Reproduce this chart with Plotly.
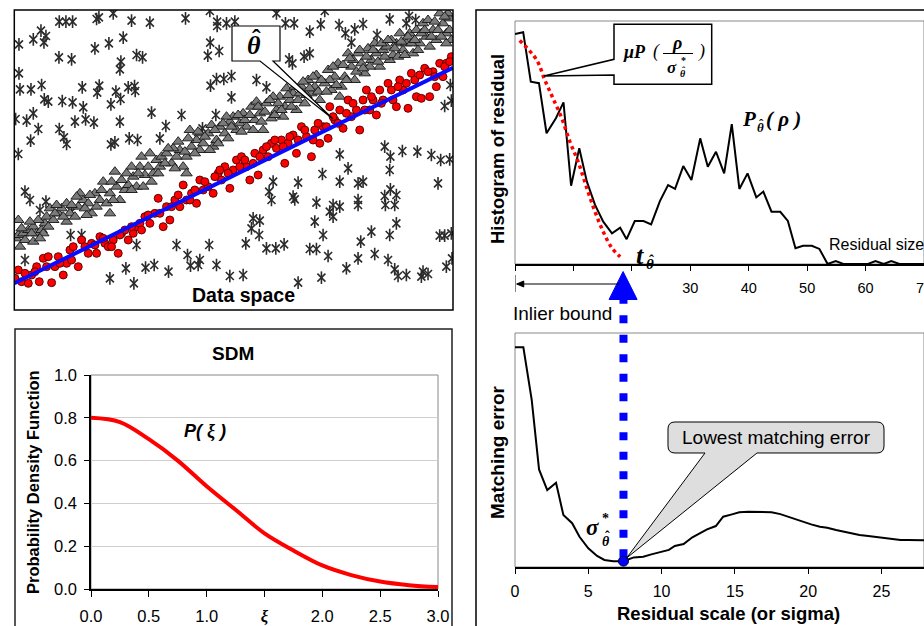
import plotly.graph_objects as go

W, H = 924, 626
SANS = "Liberation Sans, Arial, sans-serif"
SERIF = "Liberation Serif, Times New Roman, serif"

# ---------------- Data space (arbitrary units) ----------------
outlier_pts = [
    (178, 865), (198, 865), (218, 865), (290, 873), (297, 878), (340, 890), (395, 868), (450, 862),
    (557, 875), (630, 897), (652, 865), (652, 852), (680, 860), (705, 865), (123, 838), (100, 812),
    (138, 822), (132, 803), (57, 797), (285, 785), (327, 800), (370, 817), (631, 802), (624, 763),
    (658, 777), (177, 758), (215, 752), (410, 765), (428, 758), (363, 745), (360, 722), (57, 710),
    (60, 662), (93, 662), (125, 675), (247, 668), (298, 673), (292, 652), (348, 655), (385, 668),
    (404, 672), (406, 657), (632, 673), (650, 693), (672, 693), (695, 702), (695, 638), (133, 632),
    (145, 625), (187, 627), (218, 623), (250, 608), (333, 617), (362, 633), (47, 573), (80, 568),
    (100, 590), (115, 543), (225, 565), (257, 572), (282, 562), (360, 565), (455, 592), (545, 585),
    (648, 585), (608, 545), (92, 508), (178, 543), (192, 518), (200, 498), (333, 497), (345, 503),
    (388, 515), (413, 510), (480, 515), (498, 552), (55, 468),
    (830, 890), (857, 860), (883, 860), (930, 835), (963, 857), (975, 897), (1018, 855), (1037, 830),
    (1065, 842), (1090, 858), (1132, 825), (1170, 872), (1228, 882), (1220, 860), (1248, 870),
    (1055, 802), (868, 752), (913, 760), (930, 770), (878, 740), (770, 690), (800, 668),
    (1352, 675), (1355, 628), (1335, 612),
    (1155, 490), (1172, 460), (1208, 477), (1253, 475), (1295, 465), (1323, 450), (1020, 467),
    (1045, 425), (968, 408), (1020, 385), (1075, 380), (1090, 385), (895, 382), (885, 332),
    (1170, 420), (1315, 380), (1155, 342), (1172, 362), (1190, 345), (1157, 315), (1185, 315),
    (950, 322), (1000, 315), (1020, 310), (1075, 315), (1075, 330), (1000, 280), (990, 295),
    (1350, 452), (760, 275), (780, 268), (755, 245), (778, 225), (820, 385), (808, 355), (815, 330),
    (880, 340), (970, 225), (945, 265), (1115, 235), (1190, 260), (1170, 225), (1083, 205),
    (1320, 223), (1335, 223), (1355, 230), (738, 200), (800, 185), (828, 185), (853, 197),
    (930, 183), (950, 183), (985, 162), (1075, 155), (1125, 168), (1165, 150), (1357, 155),
    (628, 195), (563, 165), (600, 150), (572, 133), (595, 135), (650, 135), (690, 102), (730, 105),
    (895, 82), (965, 97), (1040, 125), (1185, 122), (1195, 102), (1220, 105), (1270, 115),
    (1265, 100), (1285, 108), (1340, 130), (330, 95), (378, 125), (402, 80), (437, 127), (463, 135),
    (506, 115), (530, 195), (410, 195), (212, 225), (245, 225), (75, 355), (90, 330), (138, 325),
    (120, 300), (215, 295), (75, 150),
]

shifted_pts = [
    (48, 215), (55, 225), (70, 230), (85, 240), (100, 250), (110, 230), (125, 240), (135, 260),
    (55, 270), (60, 190), (75, 210), (95, 230), (115, 270), (140, 280), (150, 305), (160, 270),
    (175, 290), (185, 305), (200, 320), (210, 290), (225, 280), (235, 310), (250, 330), (265, 320),
    (275, 290), (285, 350), (300, 330), (320, 320), (330, 350), (345, 415), (350, 370), (360, 330),
    (375, 360), (385, 375), (400, 400), (410, 370), (420, 430), (435, 405), (450, 470), (460, 410),
    (470, 450), (485, 460), (500, 470), (515, 440), (530, 460), (540, 480), (550, 430), (560, 460),
    (570, 540), (575, 490), (590, 510), (600, 480), (610, 500), (625, 530), (635, 555), (650, 510),
    (660, 550), (675, 530), (690, 565), (700, 580), (710, 540), (720, 560), (740, 550), (755, 610),
    (765, 570), (780, 590), (790, 540), (800, 620), (815, 575), (830, 600), (840, 640), (855, 610),
    (860, 665), (870, 630), (880, 650), (895, 630), (905, 670), (915, 620), (925, 690), (935, 650),
    (945, 670), (960, 630), (975, 680), (985, 720), (995, 660), (1005, 700), (1015, 740),
    (1025, 670), (1035, 700), (1045, 770), (1055, 730), (1065, 690), (1075, 770), (1085, 740),
    (1095, 710), (1105, 785), (1115, 750), (1130, 770), (1140, 730), (1150, 780), (1160, 790),
    (1170, 750), (1180, 765), (1190, 800), (1200, 830), (1210, 780), (1220, 800), (1230, 830),
    (1240, 770), (1250, 840), (1260, 800), (1270, 860), (1280, 820), (1290, 790), (1300, 840),
    (1310, 810), (1320, 890), (1330, 860), (1340, 830), (1350, 875), (1355, 810), (1345, 890),
    (1335, 880), (100, 205), (130, 230), (170, 315), (200, 265), (240, 350), (260, 285), (310, 385),
    (330, 290), (395, 430), (430, 370), (480, 430), (520, 485), (560, 410), (600, 530), (640, 490),
    (680, 580), (730, 590), (770, 625), (820, 640), (850, 580), (890, 600), (920, 645), (950, 705),
    (990, 690), (1020, 640), (1060, 750), (1110, 730), (1125, 800), (1175, 810), (1195, 760),
    (1235, 800), (1265, 830), (1285, 870), (1315, 840), (1340, 800),
    (65, 245), (90, 265), (120, 215), (145, 250), (165, 290), (190, 280), (215, 315), (230, 340),
    (255, 305), (270, 345), (290, 310), (305, 360), (335, 385), (340, 330), (365, 390), (380, 410),
    (395, 360), (415, 410), (425, 460), (445, 430), (455, 385), (475, 410), (495, 440), (505, 485),
    (525, 425), (535, 505), (555, 475), (565, 515), (585, 470), (595, 535), (615, 520), (630, 480),
    (645, 540), (655, 500), (670, 560), (685, 515), (695, 550), (715, 585), (725, 535), (735, 570),
    (750, 585), (760, 540), (775, 610), (785, 565), (795, 595), (810, 630), (825, 585), (835, 620),
    (845, 600), (865, 645), (875, 610), (885, 670), (900, 650), (910, 685), (930, 665), (940, 700),
    (955, 655), (965, 690), (980, 655), (1000, 730), (1010, 675), (1030, 735), (1040, 690),
    (1050, 755), (1070, 715), (1080, 780), (1090, 725), (1100, 760), (1120, 780), (1135, 745),
    (1145, 800), (1155, 760), (1165, 810), (1185, 785), (1205, 805), (1215, 765), (1225, 820),
    (1245, 810), (1255, 780), (1275, 840), (1295, 820), (1305, 865), (1325, 820), (1350, 840),
]

inlier_pts = [
    (45, 95), (55, 120), (65, 85), (85, 80), (95, 105), (110, 130), (118, 85), (130, 155),
    (145, 160), (155, 82), (165, 130), (175, 160), (190, 105), (200, 140), (210, 180), (220, 190),
    (235, 130), (245, 210), (265, 170), (275, 200), (290, 170), (300, 220), (315, 200), (325, 190),
    (340, 210), (355, 170), (365, 230), (375, 240), (385, 210), (400, 230), (410, 250), (420, 260),
    (435, 280), (450, 260), (465, 290), (475, 335), (490, 250), (500, 310), (510, 270), (525, 330),
    (540, 310), (550, 375), (560, 330), (575, 350), (590, 320), (600, 390), (610, 360), (625, 370),
    (640, 350), (655, 410), (665, 390), (675, 430), (690, 365), (700, 420), (710, 450), (725, 460),
    (740, 430), (750, 390), (765, 470), (775, 405), (790, 480), (805, 460), (815, 500), (830, 485),
    (845, 510), (855, 440), (865, 500), (880, 525), (890, 470), (905, 550), (920, 520), (935, 460),
    (945, 540), (960, 500), (970, 550), (985, 515), (990, 610), (1005, 570), (1020, 600),
    (1030, 545), (1045, 630), (1055, 580), (1070, 600), (1080, 540), (1090, 630), (1100, 660),
    (1110, 600), (1120, 630), (1130, 585), (1140, 660), (1150, 630), (1165, 680), (1180, 630),
    (1190, 610), (1200, 690), (1210, 660), (1225, 605), (1235, 710), (1250, 640), (1265, 635),
    (1275, 725), (1290, 640), (1300, 715), (1310, 670), (1320, 740), (1330, 700), (1340, 740),
    (1355, 760), (75, 110), (105, 115), (140, 130), (180, 140), (215, 150), (255, 190), (285, 195),
    (310, 215), (335, 190), (360, 225), (395, 250), (425, 240), (445, 285), (480, 290), (515, 310),
    (535, 345), (570, 330), (585, 360), (615, 385), (645, 400), (660, 420), (685, 410), (720, 430),
    (735, 450), (760, 440), (780, 460), (800, 490), (825, 510), (850, 490), (870, 520), (895, 510),
    (915, 540), (940, 510), (955, 560), (980, 550), (1000, 580), (1015, 560), (1040, 590),
    (1060, 620), (1095, 600), (1115, 640), (1145, 620), (1175, 660), (1195, 670), (1220, 680),
    (1245, 690), (1260, 705), (1285, 715), (1305, 700), (1335, 730), (1350, 745),
]

fit_x = [43, 1360]
fit_y = [80, 727]

# ---------------- SDM: P(xi) ----------------
xi = [0.0, 0.25, 0.5, 0.75, 1.0, 1.25, 1.5, 1.75, 2.0, 2.25, 2.5, 2.75, 3.0]
p_xi = [0.80, 0.78, 0.70, 0.60, 0.48, 0.37, 0.26, 0.18, 0.11, 0.065, 0.035, 0.018, 0.009]

# ---------------- Histogram of residuals ----------------
res_size = [0, 1.4, 2.7, 4.1, 5.4, 7.0, 8.3, 9.6, 11.0, 12.3, 13.7, 15.1, 16.6, 18.0, 19.1,
            20.5, 22.0, 23.3, 24.8, 26.2, 27.4, 28.8, 30.2, 31.7, 33.0, 34.4, 35.8, 37.1, 38.4,
            39.8, 41.3, 42.5, 43.9, 45.4, 46.7, 48.0, 49.3, 50.8, 52.1, 53.5, 54.9, 56.2, 57.6,
            59.0, 60.4, 61.7, 63.1, 64.4, 65.8, 67.2, 68.6, 70.0]
res_count = [94.6, 95.4, 75.0, 74.4, 53.8, 60.0, 66.5, 32.2, 47.6, 33.9, 24.3, 17.4, 12.6, 14.9,
             10.2, 17.7, 17.7, 16.3, 25.9, 32.5, 30.9, 40.3, 34.6, 51.7, 40.0, 46.2, 37.3, 57.6,
             30.9, 37.3, 27.4, 29.8, 21.5, 21.5, 17.7, 6.5, 7.5, 7.5, 6.2, 0, 1.2, 0, 0, 0, 0,
             1.2, 0, 1.2, 0, 0, 0, 0]
model_x = [0.8, 3.7, 5.1, 6.5, 8.0, 9.4, 10.8, 12.3, 13.7, 15.1, 16.6, 18.0]
model_y = [92.0, 84.0, 75.7, 68.2, 60.0, 50.3, 42.1, 31.2, 21.5, 13.3, 6.5, 3.0]
hist_ticks = [30, 40, 50, 60, 70]
t_hat = 18.5  # inlier bound = 2.5 sigma*

# ---------------- Matching error vs. scale ----------------
sigma = [0, 0.57, 1.14, 1.64, 2.2, 2.8, 3.3, 3.9, 4.4, 5.0, 5.6, 6.1, 6.7, 7.4, 8.1, 8.75, 9.3,
         9.9, 10.5, 10.9, 11.5, 12.1, 12.6, 13.1, 13.7, 14.2, 14.8, 15.3, 15.9, 16.4, 16.9, 17.5,
         18.1, 18.6, 19.1, 19.7, 20.2, 20.8, 21.3, 21.9, 22.4, 23.0, 23.5, 24.1, 24.7, 25.2, 25.8,
         26.3, 26.8, 27.4, 27.9]
match_err = [93.9, 93.9, 71.4, 41.7, 32.9, 36.0, 22.2, 18.7, 12.9, 8.0, 4.7, 3.0, 2.5, 2.5, 4.1,
             4.4, 5.4, 6.3, 7.3, 9.0, 9.8, 12.7, 14.4, 16.1, 17.5, 21.5, 22.5, 23.4, 23.6, 23.6,
             23.6, 23.4, 22.6, 21.5, 20.4, 19.1, 18.2, 17.2, 16.8, 15.8, 15.1, 14.4, 13.7, 13.2,
             12.7, 12.3, 11.8, 11.5, 11.5, 11.4, 11.4]
best = 13  # index of sigma* (lowest matching error)

# ---------------- layout helpers ----------------
def px(x):
    return x / W


def py(y):
    return 1 - y / H


# subplot boxes in pixels: left, right, top, bottom
BOX = {1: (14.3, 453, 10, 310), 2: (91, 438, 375, 589), 3: (515, 924, 21, 264), 4: (515, 924, 333, 567)}
XR = {1: [43, 1360], 2: [0, 3], 3: [0, 70], 4: [0, 27.9]}
YR = {1: [0, 900], 2: [0, 1], 3: [0, 100], 4: [0, 100]}


def to_px(k, x, y):
    l, r, t, b = BOX[k]
    (x0, x1), (y0, y1) = XR[k], YR[k]
    return l + (x - x0) / (x1 - x0) * (r - l), b - (y - y0) / (y1 - y0) * (b - t)


def dom(k):
    l, r, t, b = BOX[k]
    return [px(l), px(r)], [py(b), py(t)]


def pts(x, y):
    return f"{px(x):.5f},{py(y):.5f}"


def path(points, close=True):
    s = "M " + " L ".join(pts(x, y) for x, y in points)
    return s + (" Z" if close else "")


fig = go.Figure()

# data space scatter
ox, oy = zip(*outlier_pts)
sx, sy = zip(*shifted_pts)
ix, iy = zip(*inlier_pts)
for sym, sz in (("x-thin-open", 8), ("line-ns-open", 9)):
    fig.add_trace(go.Scatter(x=ox, y=oy, mode="markers", xaxis="x", yaxis="y",
                             marker=dict(symbol=sym, size=sz, color="#2b2b2b", line=dict(width=1.6, color="#2b2b2b"))))
fig.add_trace(go.Scatter(x=sx, y=sy, mode="markers", xaxis="x", yaxis="y",
                         marker=dict(symbol="triangle-up", size=10, color="#7a7a7a", line=dict(width=0.9, color="#141414"))))
fig.add_trace(go.Scatter(x=ix, y=iy, mode="markers", xaxis="x", yaxis="y",
                         marker=dict(symbol="circle", size=8, color="#ff0000", line=dict(width=0.9, color="#4a0000"))))
fig.add_trace(go.Scatter(x=fit_x, y=fit_y, mode="lines", xaxis="x", yaxis="y",
                         line=dict(color="#0a0aff", width=4)))

# SDM
fig.add_trace(go.Scatter(x=xi, y=p_xi, mode="lines", xaxis="x2", yaxis="y2",
                         line=dict(color="#ff0000", width=4, shape="spline")))

# histogram + fitted model
fig.add_trace(go.Scatter(x=res_size, y=res_count, mode="lines", xaxis="x3", yaxis="y3",
                         line=dict(color="black", width=2)))
fig.add_trace(go.Scatter(x=model_x, y=model_y, mode="lines", xaxis="x3", yaxis="y3",
                         line=dict(color="#ff0000", width=3.5, dash="dot", shape="spline")))

# matching error
fig.add_trace(go.Scatter(x=sigma, y=match_err, mode="lines", xaxis="x4", yaxis="y4",
                         line=dict(color="black", width=2)))
fig.add_trace(go.Scatter(x=[sigma[best]], y=[match_err[best]], mode="markers", xaxis="x4", yaxis="y4",
                         cliponaxis=False,
                         marker=dict(symbol="circle", size=10, color="#0000ff", line=dict(width=1, color="#000033"))))

hidden = dict(visible=False, showgrid=False, zeroline=False, automargin=False)
d1x, d1y = dom(1)
d2x, d2y = dom(2)
d3x, d3y = dom(3)
d4x, d4y = dom(4)


def tickf(s):
    return dict(family=SANS, size=s, color="black")


xi_label = f"<span style='font-family:{SERIF}'><b><i>\u03be</i></b></span>"
fig.update_layout(
    width=W, height=H, margin=dict(l=0, r=0, t=0, b=0, autoexpand=False),
    paper_bgcolor="white", plot_bgcolor="rgba(0,0,0,0)", showlegend=False,
    xaxis=dict(domain=d1x, range=XR[1], **hidden),
    yaxis=dict(domain=d1y, range=YR[1], **hidden),
    xaxis2=dict(domain=d2x, range=XR[2], anchor="y2", showgrid=False, zeroline=False, automargin=False,
                showline=True, linecolor="black", linewidth=1.5, ticks="outside", ticklen=6,
                tickcolor="black", tickvals=[0, 0.5, 1.0, 1.5, 2.0, 2.5, 3.0],
                ticktext=["0.0", "0.5", "1.0", xi_label, "2.0", "2.5", "3.0"],
                tickfont=tickf(16.5), ticklabelstandoff=5),
    yaxis2=dict(domain=d2y, range=YR[2], anchor="x2", dtick=0.2, tickformat=".1f", automargin=False,
                showgrid=True, gridcolor="#cfcfcf", gridwidth=1, zeroline=False,
                showline=True, linecolor="black", linewidth=1.5, ticks="outside", ticklen=5,
                tickcolor="black", tickfont=tickf(16.5), ticklabelstandoff=4),
    xaxis3=dict(domain=d3x, range=XR[3], anchor="y3", showgrid=False, zeroline=False, automargin=False,
                showline=True, linecolor="black", linewidth=1.5, ticks="outside", ticklen=5,
                tickcolor="black", tickvals=hist_ticks, tickfont=tickf(14.5), ticklabelstandoff=5,
                ticklabeloverflow="allow",
                minor=dict(dtick=10, tick0=0, ticks="outside", ticklen=5, tickcolor="black", showgrid=False)),
    yaxis3=dict(domain=d3y, range=YR[3], anchor="x3", **hidden),
    xaxis4=dict(domain=d4x, range=XR[4], anchor="y4", showgrid=False, zeroline=False, automargin=False,
                showline=True, linecolor="black", linewidth=1.5, ticks="outside", ticklen=5,
                tickcolor="black", tickvals=[0, 5, 10, 15, 20, 25], tickfont=tickf(16),
                ticklabelstandoff=4),
    yaxis4=dict(domain=d4y, range=YR[4], anchor="x4", **hidden),
)

shapes = []
# panel frames
shapes.append(dict(type="rect", xref="paper", yref="paper", x0=px(14.3), x1=px(453), y0=py(310), y1=py(10),
                   line=dict(color="black", width=1.5)))
shapes.append(dict(type="rect", xref="paper", yref="paper", x0=px(15), x1=px(452), y0=py(660), y1=py(329),
                   line=dict(color="#222222", width=1.5)))
shapes.append(dict(type="rect", xref="paper", yref="paper", x0=px(476), x1=px(960), y0=py(660), y1=py(10),
                   line=dict(color="black", width=1.5)))
# plot-area borders
for k in (2, 3, 4):
    shapes.append(dict(type="rect", xref=f"x{k} domain", yref=f"y{k} domain", x0=0, x1=1, y0=0, y1=1,
                       line=dict(color="#888888", width=1), layer="below"))

# inlier bound: dashed blue line from the threshold marker down to sigma*
mx, my = to_px(4, sigma[best], match_err[best])
shapes.append(dict(type="line", xref="x4", yref="paper", x0=sigma[best], x1=sigma[best],
                   y0=py(my - 4), y1=py(300), line=dict(color="#0000ff", width=8, dash="8px,11.5px"),
                   layer="below"))
# threshold triangle on the residual axis
shapes.append(dict(type="path", xref="x3", yref="paper",
                   path=f"M {t_hat - 2.4},{py(299.5)} L {t_hat + 2.4},{py(299.5)} L {t_hat},{py(271.5)} Z",
                   fillcolor="#0000ff", line=dict(color="#0000ff", width=1)))
# inlier-bound arrow: grey start tick, shaft and arrowhead
shapes.append(dict(type="line", xref="x3", yref="paper", x0=0, x1=0, y0=py(292), y1=py(275),
                   line=dict(color="#888888", width=2)))
shapes.append(dict(type="line", xref="x3", yref="paper", x0=0.3, x1=t_hat - 0.6, y0=py(284), y1=py(284),
                   line=dict(color="black", width=1.2)))
shapes.append(dict(type="path", xref="x3", yref="paper",
                   path=f"M 0.3,{py(284)} L 1.5,{py(281)} L 1.5,{py(287)} Z",
                   fillcolor="black", line=dict(color="black", width=1)))

# callout: theta-hat
shapes.append(dict(type="path", xref="paper", yref="paper",
                   path=path([(232, 26), (280, 26), (280, 61), (273, 61), (333, 119), (260, 61), (232, 61)]),
                   fillcolor="white", line=dict(color="black", width=1.2)))
# callout: mu P(rho / sigma*)
shapes.append(dict(type="path", xref="paper", yref="paper",
                   path=path([(614, 24.3), (711.7, 24.3), (711.7, 84.3), (614, 84.3), (614, 75),
                              (544, 76), (614, 59.3)]),
                   fillcolor="white", line=dict(color="black", width=1.5)))
shapes.append(dict(type="line", xref="paper", yref="paper", x0=px(663), x1=px(693), y0=py(53.5), y1=py(53.5),
                   line=dict(color="black", width=1)))
# callout: lowest matching error (rounded box with wedge to sigma*)
low_path = (f"M {pts(675, 422)} L {pts(877, 422)} Q {pts(884, 422)} {pts(884, 429)} "
            f"L {pts(884, 446)} Q {pts(884, 453)} {pts(877, 453)} L {pts(757, 453)} "
            f"L {pts(mx + 3, my - 3)} L {pts(705, 453)} L {pts(675, 453)} "
            f"Q {pts(668, 453)} {pts(668, 446)} L {pts(668, 429)} Q {pts(668, 422)} {pts(675, 422)} Z")
shapes.append(dict(type="path", xref="paper", yref="paper", path=low_path,
                   fillcolor="#dedede", line=dict(color="black", width=1)))

ann = []


def label(x, y, text, size, family=SANS, angle=0, xanchor="center"):
    ann.append(dict(x=px(x), y=py(y), xref="paper", yref="paper", text=text, showarrow=False,
                    font=dict(size=size, family=family, color="black"), textangle=angle,
                    xanchor=xanchor, yanchor="middle"))


def theta_hat(x, y, size):
    # theta with a circumflex drawn just above it
    label(x, y, "<b><i>\u03b8</i></b>", size, SERIF)
    label(x + 0.08 * size, y - 0.3 * size, "<b>\u02c6</b>", size, SERIF)


label(243, 295, "<b>Data space</b>", 19.5)
theta_hat(254, 46, 26)
label(233, 353, "<b>SDM</b>", 19)
label(33, 482, "<b>Probability Density Function</b>", 16.5, angle=-90)
label(205, 431, f"<b><i>P( </i></b><span style='font-family:{SERIF}'><b><i>\u03be</i></b></span><b><i> )</i></b>", 18)

label(497, 149, "<b>Histogram of residual</b>", 18.5, angle=-90)
label(497, 452, "<b>Matching error</b>", 19, angle=-90)
label(728, 613, "<b>Residual scale (or sigma)</b>", 18.5)
label(562, 313, "Inlier bound", 19)
label(776, 437, "Lowest matching error", 19)
label(827, 245, "Residual size", 16, xanchor="left")

# P_theta-hat(rho)
label(749, 119, "<b><i>P</i></b>", 21, SERIF)
theta_hat(760, 127, 13)
label(783, 119, "<b><i>( \u03c1 )</i></b>", 21, SERIF)
# t_theta-hat
label(640, 255, "<b><i>t</i></b>", 26, SERIF)
theta_hat(650, 264, 15)
# sigma*_theta-hat near the minimum
label(592, 527, "<b><i>\u03c3</i></b>", 23, SERIF)
label(605, 518, "<b>*</b>", 14, SERIF)
theta_hat(606, 541, 14)
# mu P(rho / sigma*)
label(634, 52, "<b><i>\u03bcP</i></b>", 18, SERIF)
label(656, 52, "<i>(</i>", 18, SERIF)
label(701, 52, "<i>)</i>", 18, SERIF)
label(677, 43, "<b><i>\u03c1</i></b>", 18, SERIF)
label(672, 67, "<b><i>\u03c3</i></b>", 17, SERIF)
label(683, 61, "<b>*</b>", 10, SERIF)
theta_hat(683, 74, 10)

fig.update_layout(shapes=shapes, annotations=ann)
fig.write_html("out.html")
